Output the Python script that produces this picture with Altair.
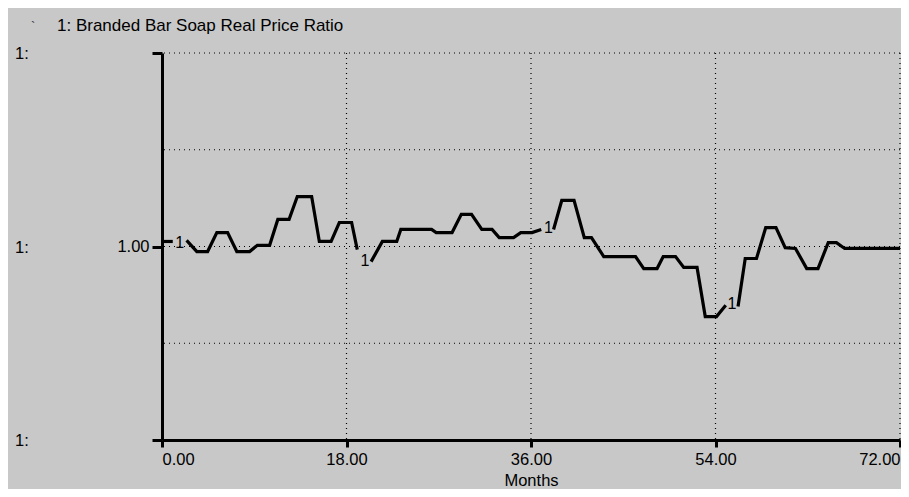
import altair as alt
import pandas as pd

# ---- data ----
months = [0, 1.05,
          2.4, 3.4, 4.45, 5.35, 6.4, 7.3, 8.55, 9.3, 10.5, 11.3, 12.4, 13.2, 14.6, 15.35, 16.5, 17.3, 18.5, 19.05,
          20.4, 21.5, 22.9, 23.3, 26.3, 26.75, 28.3, 29.2, 30.2, 31.2, 32.2, 32.9, 34.3, 35.0, 36.1, 37.0,
          38.2, 39.0, 40.2, 41.2, 41.9, 43.1, 46.2, 47.0, 48.3, 48.9, 50.1, 50.9, 52.2, 53.0, 54.1, 55.0,
          56.2, 56.9, 58.0, 58.9, 59.9, 60.8, 61.8, 62.9, 64.0, 65.0, 65.8, 66.6, 72.0]
values = [1.013, 1.013,
          1.016, 0.987, 0.987, 1.036, 1.036, 0.987, 0.987, 1.003, 1.003, 1.070, 1.070, 1.129, 1.129, 1.013, 1.013, 1.062, 1.062, 0.992,
          0.961, 1.013, 1.013, 1.044, 1.044, 1.036, 1.036, 1.083, 1.083, 1.044, 1.044, 1.023, 1.023, 1.036, 1.036, 1.044,
          1.044, 1.119, 1.119, 1.023, 1.023, 0.974, 0.974, 0.943, 0.943, 0.974, 0.974, 0.946, 0.946, 0.819, 0.819, 0.848,
          0.845, 0.969, 0.969, 1.049, 1.049, 0.997, 0.995, 0.943, 0.943, 1.010, 1.010, 0.995, 0.995]
segments = [1, 1,
            2, 2, 2, 2, 2, 2, 2, 2, 2, 2, 2, 2, 2, 2, 2, 2, 2, 2,
            3, 3, 3, 3, 3, 3, 3, 3, 3, 3, 3, 3, 3, 3, 3, 3,
            4, 4, 4, 4, 4, 4, 4, 4, 4, 4, 4, 4, 4, 4, 4, 4,
            5, 5, 5, 5, 5, 5, 5, 5, 5, 5, 5, 5, 5]

marker_months = [1.72, 19.8, 37.7, 55.6]
marker_values = [1.010, 0.963, 1.049, 0.851]
marker_text = ["1", "1", "1", "1"]

x_ticks = [0, 18, 36, 54, 72]
y_ticks = [0.5, 1.0, 1.5]
v_grid = [18, 36, 54, 72]
h_grid = [0.75, 1.0, 1.25, 1.5]
scale_labels = ["1:", "1:", "1:"]

title_text = "1: Branded Bar Soap Real Price Ratio"
x_title = "Months"

FONT = "Liberation Sans"
FS = 16.5
BG = "#c8c8c8"

xs = alt.Scale(domain=[0, 72], nice=False, zero=False)
ys = alt.Scale(domain=[0.5, 1.5], nice=False, zero=False)

xaxis = alt.Axis(values=x_ticks, format=".2f", labelFlush=True, grid=False,
                 tickSize=7, tickWidth=3, tickColor="black",
                 domainWidth=3, domainColor="black",
                 labelFont=FONT, labelFontSize=FS, labelColor="black", labelPadding=4,
                 title=x_title, titleFont=FONT, titleFontSize=FS, titleFontWeight="normal",
                 titleColor="black", titlePadding=5)
yaxis = alt.Axis(values=y_ticks, labelExpr="datum.value == 1 ? '1.00' : ''", grid=False,
                 tickSize=10, tickWidth=3, tickColor="black",
                 domainWidth=3, domainColor="black",
                 labelFont=FONT, labelFontSize=FS, labelColor="black", labelPadding=3,
                 title=None)

df = pd.DataFrame({"Months": months, "Value": values, "seg": segments})
mk = pd.DataFrame({"Months": marker_months, "Value": marker_values, "t": marker_text})

vgrid = alt.Chart(pd.DataFrame({"Months": v_grid})).mark_rule(
    color="black", strokeWidth=1.2, strokeDash=[1, 4]
).encode(x=alt.X("Months:Q", scale=xs, axis=xaxis))

hgrid = alt.Chart(pd.DataFrame({"Value": h_grid})).mark_rule(
    color="black", strokeWidth=1.2, strokeDash=[1, 4]
).encode(y=alt.Y("Value:Q", scale=ys, axis=yaxis))

line = alt.Chart(df).mark_line(color="black", strokeWidth=3.2, strokeJoin="miter").encode(
    x=alt.X("Months:Q", scale=xs, axis=xaxis),
    y=alt.Y("Value:Q", scale=ys, axis=yaxis),
    detail="seg:N",
)

markers = alt.Chart(mk).mark_text(font=FONT, fontSize=16, fill="#000000").encode(
    x=alt.X("Months:Q", scale=xs, axis=xaxis),
    y=alt.Y("Value:Q", scale=ys, axis=yaxis),
    text="t:N",
)

side = alt.Chart(pd.DataFrame({"Value": y_ticks, "t": scale_labels})).mark_text(
    font=FONT, fontSize=FS, fill="#000000", align="left", baseline="alphabetic", dy=6
).encode(x=alt.value(-147), y=alt.Y("Value:Q", scale=ys, axis=yaxis), text="t:N")

title = alt.Chart(pd.DataFrame({"t": [title_text]})).mark_text(
    font=FONT, fontSize=17, fill="#000000", align="left", baseline="alphabetic"
).encode(x=alt.value(-105), y=alt.value(-22), text="t:N")

tick_mark = alt.Chart(pd.DataFrame({"t": ["`"]})).mark_text(
    font=FONT, fontSize=13, fill="#333333", align="left", baseline="alphabetic"
).encode(x=alt.value(-131), y=alt.value(-22), text="t:N")

chart = alt.layer(vgrid, hgrid, line, markers, side, title, tick_mark).properties(
    width=738, height=387,
    autosize=alt.AutoSizeParams(type="none"),
    padding={"left": 154, "top": 45, "right": 1, "bottom": 49},
).configure(background=BG).configure_view(stroke=None)

chart.save("out.html", embed_options={"renderer": "svg", "actions": False})
